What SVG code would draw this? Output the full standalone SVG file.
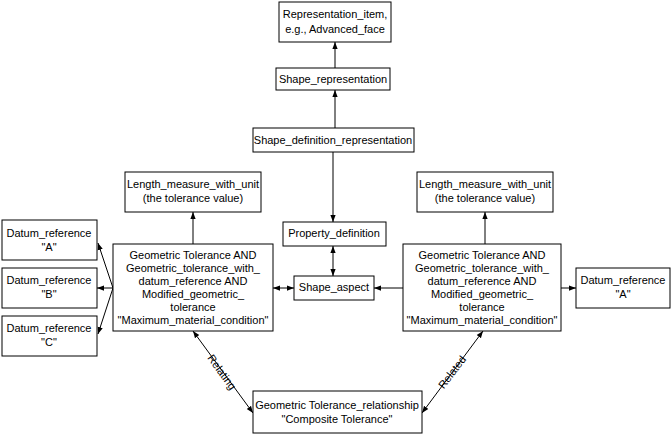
<svg xmlns="http://www.w3.org/2000/svg" width="672" height="437" viewBox="0 0 672 437">
<style>
rect{fill:#fff;stroke:#000;stroke-width:1}
text{font-family:"Liberation Sans",Arial,sans-serif;font-size:11px;text-anchor:middle;fill:#000}
.c line{stroke:#000;stroke-width:1;marker-end:url(#a)}
.c line.d{marker-start:url(#s)}
</style>
<defs>
<marker id="a" viewBox="0 0 8 8" refX="8" refY="4" markerWidth="7" markerHeight="7" orient="auto" markerUnits="userSpaceOnUse"><path d="M0,1 L8,4 L0,7 z"/></marker>
<marker id="s" viewBox="0 0 8 8" refX="0" refY="4" markerWidth="7" markerHeight="7" orient="auto" markerUnits="userSpaceOnUse"><path d="M8,1 L0,4 L8,7 z"/></marker>
</defs>
<rect width="672" height="437" style="stroke:none"/>
<g class="c" id="connectors">
<line x1="335" y1="68" x2="335" y2="42"/>
<line x1="335" y1="128" x2="335" y2="90"/>
<line x1="333" y1="152" x2="333" y2="222"/>
<line class="d" x1="333" y1="246" x2="333" y2="276"/>
<line class="d" x1="273" y1="288" x2="294" y2="288"/>
<line x1="403" y1="288" x2="374" y2="288"/>
<line x1="193" y1="244" x2="193" y2="212"/>
<line x1="485" y1="244" x2="485" y2="212"/>
<line x1="113" y1="288" x2="98" y2="243"/>
<line x1="113" y1="288" x2="97" y2="288"/>
<line x1="113" y1="288" x2="98" y2="334"/>
<line x1="561" y1="288" x2="576" y2="288"/>
<line class="d" x1="193" y1="331" x2="253" y2="413"/>
<line class="d" x1="422" y1="413" x2="483" y2="331"/>
</g>
<text transform="translate(222,372) rotate(54)" y="4">Relating</text>
<text transform="translate(452,372) rotate(-53)" y="4">Related</text>
<g id="rep_item"><rect x="279" y="2" width="112" height="40"/><text x="335" y="18">Representation_item,</text><text x="335" y="33">e.g., Advanced_face</text></g>
<g id="shape_rep"><rect x="276" y="68" width="114" height="22"/><text x="333" y="83">Shape_representation</text></g>
<g id="sdr"><rect x="253" y="128" width="161" height="24"/><text x="333" y="144">Shape_definition_representation</text></g>
<g id="len_l"><rect x="125" y="172" width="136" height="40"/><text x="193" y="188">Length_measure_with_unit</text><text x="193" y="202">(the tolerance value)</text></g>
<g id="len_r"><rect x="417" y="172" width="136" height="40"/><text x="485" y="188">Length_measure_with_unit</text><text x="485" y="202">(the tolerance value)</text></g>
<g id="propdef"><rect x="283" y="222" width="103" height="24"/><text x="334" y="237">Property_definition</text></g>
<g id="shape_aspect"><rect x="294" y="276" width="80" height="24"/><text x="334" y="291">Shape_aspect</text></g>
<g id="gt_l"><rect x="113" y="244" width="160" height="87"/><text x="193" y="259">Geometric Tolerance AND</text><text x="193" y="272">Geometric_tolerance_with_</text><text x="193" y="285">datum_reference AND</text><text x="193" y="298">Modified_geometric_</text><text x="193" y="311">tolerance</text><text x="193" y="324">"Maximum_material_condition"</text></g>
<g id="gt_r"><rect x="403" y="244" width="158" height="87"/><text x="482" y="259">Geometric Tolerance AND</text><text x="482" y="272">Geometric_tolerance_with_</text><text x="482" y="285">datum_reference AND</text><text x="482" y="298">Modified_geometric_</text><text x="482" y="311">tolerance</text><text x="482" y="324">"Maximum_material_condition"</text></g>
<g id="datum_a"><rect x="2" y="220" width="95" height="40"/><text x="49" y="237">Datum_reference</text><text x="49" y="251">"A"</text></g>
<g id="datum_b"><rect x="2" y="268" width="95" height="40"/><text x="49" y="284">Datum_reference</text><text x="49" y="298">"B"</text></g>
<g id="datum_c"><rect x="2" y="316" width="95" height="40"/><text x="49" y="332">Datum_reference</text><text x="49" y="346">"C"</text></g>
<g id="datum_a_r"><rect x="576" y="268" width="94" height="40"/><text x="623" y="284">Datum_reference</text><text x="623" y="298">"A"</text></g>
<g id="gt_rel"><rect x="253" y="391" width="169" height="42"/><text x="337" y="409">Geometric Tolerance_relationship</text><text x="337" y="423">"Composite Tolerance"</text></g>
</svg>
